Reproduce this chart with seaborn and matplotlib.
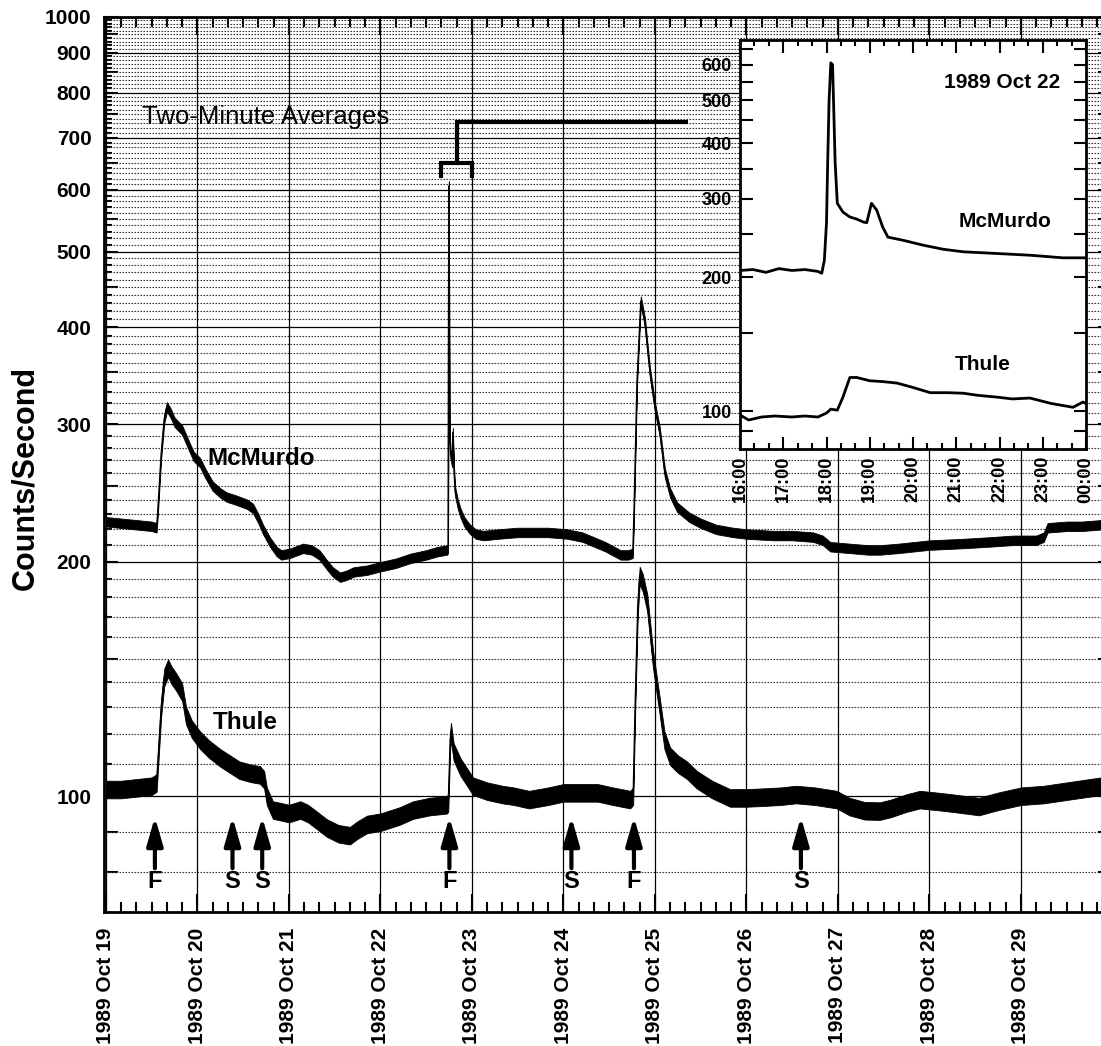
import numpy as np
import pandas as pd
import matplotlib
matplotlib.use("Agg")
import matplotlib.pyplot as plt
from matplotlib.ticker import FixedLocator, FuncFormatter, NullFormatter
import seaborn as sns

# ---- neutron monitor count rates, 1989 Oct 19 - Oct 29 (hours since Oct 19 00:00 UT) ----
mcmurdo_hours = [0, 4, 8, 12, 13.3, 13.6, 14.5, 15.3, 16.0, 17, 18, 20, 22, 23, 24.7, 26, 28, 30,
                 31.7, 34, 37, 38.6, 40, 41.2, 43, 44.8, 46, 48.3, 51.7, 54, 56, 58, 59.5, 61.4,
                 63, 65, 68.5, 72, 76, 80, 84, 87, 89.5, 89.75, 89.85, 89.95, 90.05, 90.15,
                 90.4, 90.8, 91.0, 91.3, 91.6, 92.3, 93, 94, 95.5, 97, 99, 103, 108, 112, 116,
                 121, 125, 128, 131, 135, 137, 138.2, 138.5, 139.3, 140.3, 140.8, 141.4, 142,
                 142.7, 144, 145.3, 146.6, 148, 149.8, 153, 156, 160, 164.5, 168, 175, 180,
                 185.5, 188, 190, 195, 200, 203, 208, 216, 225, 232, 238, 244, 246, 247, 252,
                 256, 261, 264]
mcmurdo_counts = [225, 224, 223, 222, 221, 232, 275, 305, 316, 310, 302, 295, 280, 273, 268, 260,
                  250, 245, 242, 240, 237, 234, 227, 220, 212, 206, 204, 205, 208, 207, 204, 198,
                  194, 191, 192, 194, 195, 197, 199, 202, 204, 206, 207, 208, 380, 607, 420, 290,
                  275, 268, 293, 262, 246, 237, 231, 225, 220, 217, 216, 217, 218, 218, 218, 217,
                  215, 212, 209, 204, 204, 205, 230, 340, 432, 420, 405, 378, 350, 316, 293, 260,
                  245, 235, 228, 224, 220, 218, 217, 216, 216, 215, 213, 209, 208, 207, 207, 208,
                  210, 211, 212, 213, 213, 215, 221, 222, 222, 223, 223]

thule_hours = [0, 4, 8, 12, 13.3, 13.7, 14.5, 15.3, 16.3, 17.2, 18.5, 20, 21, 22.5, 24.7, 27, 30,
               35, 38, 40.4, 41.5, 42.2, 43.8, 46, 48, 51, 53, 55, 58, 61, 64, 66, 68.5, 72, 77,
               80.6, 85, 89.4, 89.8, 90.3, 90.5, 91.2, 93, 96.3, 100, 104, 107, 111, 116, 120,
               125, 129, 133, 137.5, 138.3, 138.8, 139.5, 140, 140.8, 142, 143.5, 145.3, 146.5,
               148, 150, 152.4, 155, 159, 163.7, 168, 172, 177, 181, 186, 191.7, 195, 199, 203,
               206, 210, 213.5, 218, 222, 229, 234, 240, 246, 252, 258, 261, 264]
thule_counts = [102, 102, 102.5, 103, 104, 112, 130, 142, 146, 143, 140, 136, 127, 122, 118, 115,
                112, 108, 107, 106.5, 105, 100, 96, 95.5, 95, 96, 95, 93.4, 91, 89.5, 89, 90.5, 92,
                92.6, 94.3, 96, 97, 97.5, 98, 118, 121, 114, 109, 103, 101.5, 100.5, 100, 99, 100,
                101, 101, 101, 100, 99, 100, 130, 175, 192, 188, 177, 150, 130, 118, 112.5, 110,
                108, 105, 102, 99.5, 99.5, 99.7, 100, 100.5, 100, 99, 97, 95.8, 95.7, 96.5, 98,
                99, 98.5, 98, 97, 98.5, 100, 100.5, 101.5, 102.5, 103, 103]

# fractional scatter of the two-minute averages about the running level
mcmurdo_scatter = 0.014
thule_scatter = 0.026

# ---- 1989 Oct 22, 16:00 - 24:00 UT detail (hour of day) ----
detail_mcmurdo_hours = [16.0, 16.3, 16.6, 16.9, 17.2, 17.5, 17.8, 17.89, 17.95, 18.0, 18.03, 18.06,
                        18.1, 18.14, 18.16, 18.2, 18.25, 18.38, 18.54, 18.7, 18.85, 18.93, 19.04,
                        19.16, 19.3, 19.42, 19.77, 20.23, 20.7, 21.16, 21.94, 22.7, 23.47, 24.0]
detail_mcmurdo_counts = [207, 208, 205, 209, 207, 208, 206, 204, 218, 265, 372, 500, 606, 600,
                         508, 361, 293, 280, 273, 270, 266, 265, 293, 283, 259, 246, 242, 236,
                         231, 228, 226, 224, 221, 221]
detail_thule_hours = [16.0, 16.2, 16.5, 16.8, 17.2, 17.5, 17.8, 18.0, 18.1, 18.25, 18.38, 18.54,
                      18.7, 19.0, 19.3, 19.63, 20.0, 20.4, 20.8, 21.16, 21.5, 21.94, 22.3, 22.7,
                      23.2, 23.7, 23.93, 24.0]
detail_thule_counts = [98, 95.5, 97, 97.5, 97, 97.5, 97, 99, 101, 100.5, 107.5, 119, 119, 117,
                       116.5, 115.6, 113, 110, 110, 109.7, 108.5, 107.5, 106.5, 107, 104, 102,
                       104.8, 104]

day_labels = ["1989 Oct 19", "1989 Oct 20", "1989 Oct 21", "1989 Oct 22", "1989 Oct 23",
              "1989 Oct 24", "1989 Oct 25", "1989 Oct 26", "1989 Oct 27", "1989 Oct 28",
              "1989 Oct 29"]
detail_hour_labels = ["16:00", "17:00", "18:00", "19:00", "20:00", "21:00", "22:00", "23:00",
                      "00:00"]

# flare (F) and shock (S) onsets, hours since Oct 19 00:00
event_hours = [12.85, 33.2, 41.0, 90.1, 122.1, 138.5, 182.3]
event_kinds = ["F", "S", "S", "F", "S", "F", "S"]

sns.set_style("ticks")
plt.rcParams["font.family"] = ["Liberation Sans", "DejaVu Sans"]
plt.rcParams.update({"text.color": "black", "axes.labelcolor": "black",
                     "xtick.color": "black", "ytick.color": "black",
                     "axes.edgecolor": "black"})

W, H = 1101, 1046
fig = plt.figure(figsize=(W / 100, H / 100), dpi=100)

# main panel: spine at x=104 px, 3.8125 px per hour, extends past the right edge
x0, x1 = -0.5, 264.0
left_px, top_px, bot_px = 104, 17, 912
px_per_h = 3.8125
ax = fig.add_axes([left_px / W, (H - bot_px) / H, (x1 - x0) * px_per_h / W, (bot_px - top_px) / H])
ax.set_yscale("log")
ax.set_xlim(x0, x1)
ax.set_ylim(71, 1000)


def band_frame(hours, counts, scatter):
    counts = np.asarray(counts, dtype=float)
    return pd.DataFrame({
        "hours": np.repeat(hours, 2),
        "counts": np.column_stack([counts * (1 - scatter), counts * (1 + scatter)]).ravel(),
    })


# grid: solid at each hundred and each day, dotted every ten counts
for v in range(80, 1001, 10):
    if v % 100 == 0:
        ax.axhline(v, color="black", lw=0.9, zorder=1)
    else:
        ax.axhline(v, color="#333333", lw=0.8, ls=(0, (1.4, 1.3)), zorder=1)
for d in range(0, 12):
    ax.axvline(24 * d, color="black", lw=0.9, zorder=1)

for hours, counts, scatter in [(mcmurdo_hours, mcmurdo_counts, mcmurdo_scatter),
                               (thule_hours, thule_counts, thule_scatter)]:
    sns.lineplot(data=band_frame(hours, counts, scatter), x="hours", y="counts", ax=ax,
                 estimator="mean", errorbar=("pi", 100), color="black", lw=1.0,
                 err_kws=dict(alpha=1, facecolor="black", edgecolor="black", linewidth=0.6),
                 zorder=3)

ax.set_xlabel("")
ax.set_ylabel("")

ax.xaxis.set_major_locator(FixedLocator(np.arange(0, 241, 24)))
ax.xaxis.set_minor_locator(FixedLocator(np.arange(0, 265, 4)))
ax.set_xticklabels(day_labels, rotation=90, fontsize=15, fontweight="bold")
ax.xaxis.set_minor_formatter(NullFormatter())

y_major = [80, 90] + list(range(100, 1001, 50))
y_minor = [v for v in range(80, 1001, 10) if v not in y_major]
ax.yaxis.set_major_locator(FixedLocator(y_major))
ax.yaxis.set_minor_locator(FixedLocator(y_minor))
ax.yaxis.set_major_formatter(FuncFormatter(lambda v, p: f"{int(round(v))}" if round(v) % 100 == 0 else ""))
ax.yaxis.set_minor_formatter(NullFormatter())
ax.tick_params(axis="y", which="major", labelsize=15, direction="in", length=10, width=1.5,
               pad=9, left=True, right=True)
ax.tick_params(axis="y", which="minor", direction="in", length=6, width=1.5, left=True, right=True)
ax.tick_params(axis="x", which="major", direction="in", length=13, width=1.5, pad=11,
               top=True, bottom=True)
ax.tick_params(axis="x", which="minor", direction="in", length=7, width=1.5, top=True, bottom=True)
for lab in ax.get_yticklabels():
    lab.set_fontweight("bold")
for s in ax.spines.values():
    s.set_linewidth(2)
    s.set_zorder(6)

ax.text(9.4, 745, "Two-Minute Averages", fontsize=18.5, ha="left", va="center", zorder=4)
ax.text(26.5, 271, "McMurdo", fontsize=17.5, fontweight="bold", ha="left", va="center", zorder=4)
ax.text(28.0, 124.4, "Thule", fontsize=17.5, fontweight="bold", ha="left", va="center", zorder=4)

# bracket marking the interval shown in the detail panel
ax.plot([88, 88, 96, 96], [622, 650, 650, 622], color="black", lw=3,
        solid_joinstyle="miter", solid_capstyle="butt", zorder=4)
ax.plot([92, 92, 152.7], [650, 733, 733], color="black", lw=3,
        solid_joinstyle="miter", solid_capstyle="butt", zorder=4)

for t, kind in zip(event_hours, event_kinds):
    ax.annotate("", xy=(t, 94), xytext=(t, 80.8),
                arrowprops=dict(arrowstyle="-|>,head_length=17,head_width=4.9", mutation_scale=1,
                                lw=3, color="black", shrinkA=0, shrinkB=0), zorder=4)
    ax.text(t, 77.6, kind, fontsize=17, fontweight="bold", ha="center", va="center", zorder=4)

fig.text(25 / W, 1 - 478 / H, "Counts/Second", rotation=90, fontsize=22, fontweight="bold",
         ha="center", va="center")

# ---- detail panel ----
ix0, ix1, iy0, iy1 = 740, 1086, 40, 449
axi = fig.add_axes([ix0 / W, (H - iy1) / H, (ix1 - ix0) / W, (iy1 - iy0) / H], zorder=10)
axi.set_facecolor("white")
axi.set_yscale("log")
axi.set_xlim(16, 24)
axi.set_ylim(82.2, 682)
sns.lineplot(x=detail_mcmurdo_hours, y=detail_mcmurdo_counts, ax=axi, color="black", lw=2,
             errorbar=None)
sns.lineplot(x=detail_thule_hours, y=detail_thule_counts, ax=axi, color="black", lw=2,
             errorbar=None)
axi.xaxis.set_major_locator(FixedLocator(np.arange(16, 25, 1)))
axi.xaxis.set_minor_locator(FixedLocator(np.arange(16, 24.01, 1 / 3)))
axi.set_xticklabels(detail_hour_labels, rotation=90, fontsize=13, fontweight="bold")
axi.xaxis.set_minor_formatter(NullFormatter())
iy_major = list(range(100, 651, 50))
axi.yaxis.set_major_locator(FixedLocator(iy_major))
axi.yaxis.set_minor_locator(FixedLocator([90]))
axi.yaxis.set_major_formatter(FuncFormatter(lambda v, p: f"{int(round(v))}" if round(v) % 100 == 0 else ""))
axi.yaxis.set_minor_formatter(NullFormatter())
axi.tick_params(axis="y", which="both", direction="in", length=9, width=1.5, labelsize=13,
                pad=6, left=True, right=True)
axi.tick_params(axis="x", which="major", direction="in", length=9, width=1.5, pad=5,
                top=True, bottom=True)
axi.tick_params(axis="x", which="minor", direction="in", length=4.5, width=1.5, top=True, bottom=True)
for lab in axi.get_yticklabels():
    lab.set_fontweight("bold")
for s in axi.spines.values():
    s.set_linewidth(2)
axi.set_xlabel("")
axi.set_ylabel("")
axi.text(22.06, 546, "1989 Oct 22", fontsize=15, fontweight="bold", ha="center", va="center")
axi.text(22.13, 266, "McMurdo", fontsize=15, fontweight="bold", ha="center", va="center")
axi.text(21.6, 127, "Thule", fontsize=15, fontweight="bold", ha="center", va="center")

fig.savefig("out.png", dpi=100)
